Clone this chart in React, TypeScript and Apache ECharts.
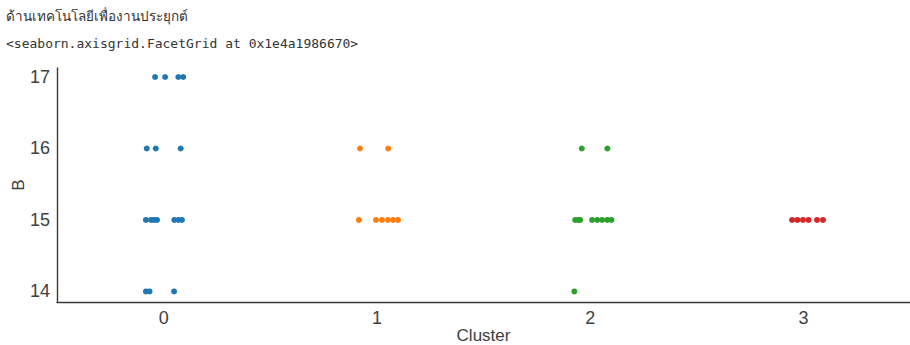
import React, { useEffect, useRef } from "react";
import * as echarts from "echarts";

const categories = ["0", "1", "2", "3"];
const yTicks = [14, 15, 16, 17];
const colors = ["#1f77b4", "#ff7f0e", "#2ca02c", "#d62728"];

// [cluster index + jitter, B value]
const cluster0: [number, number][] = [
  [-0.040, 17], [0.007, 17], [0.069, 17], [0.092, 17],
  [-0.079, 16], [-0.037, 16], [0.080, 16],
  [-0.083, 15], [-0.059, 15], [-0.045, 15], [-0.031, 15], [0.050, 15], [0.069, 15], [0.086, 15],
  [-0.083, 14], [-0.066, 14], [0.049, 14],
];
const cluster1: [number, number][] = [
  [0.921, 16], [1.053, 16],
  [0.916, 15], [0.996, 15], [1.024, 15], [1.052, 15], [1.076, 15], [1.099, 15],
];
const cluster2: [number, number][] = [
  [1.961, 16], [2.081, 16],
  [1.930, 15], [1.944, 15], [1.953, 15], [2.009, 15], [2.033, 15], [2.056, 15], [2.080, 15], [2.100, 15],
  [1.926, 14],
];
const cluster3: [number, number][] = [
  [2.947, 15], [2.972, 15], [2.998, 15], [3.024, 15], [3.064, 15], [3.092, 15],
];

const titleLine1 = "ด้านเทคโนโลยีเพื่องานประยุกต์";
const titleLine2 = "<seaborn.axisgrid.FacetGrid at 0x1e4a1986670>";

export default function App() {
  const ref = useRef<HTMLDivElement>(null);
  useEffect(() => {
    document.body.style.margin = "0";
    if (!ref.current) return;
    const chart = echarts.init(ref.current, undefined, { renderer: "svg" });
    const font = "'Liberation Sans', Arial, sans-serif";
    const seriesData = [cluster0, cluster1, cluster2, cluster3];
    chart.setOption({
      animation: false,
      backgroundColor: "#ffffff",
      grid: { left: 57, right: 0, top: 68, height: 234, containLabel: false, outerBoundsMode: "none" },
      xAxis: {
        type: "value",
        min: -0.5,
        max: 3.5,
        name: "Cluster",
        nameLocation: "middle",
        nameGap: 25,
        nameMoveOverlap: false,
        nameTextStyle: { fontFamily: font, fontSize: 17, color: "#404040", verticalAlign: "top" },
        axisLine: { show: true, onZero: false, lineStyle: { color: "#3a3a3a", width: 1.4 } },
        axisTick: { show: false },
        splitLine: { show: false },
        axisLabel: {
          customValues: [0, 1, 2, 3],
          formatter: (v: number) => categories[Math.round(v)] ?? "",
          fontFamily: font,
          fontSize: 18,
          color: "#404040",
          margin: 7,
        },
      },
      yAxis: {
        type: "value",
        min: 13.852,
        max: 17.126,
        name: "B",
        nameLocation: "middle",
        nameGap: 30,
        nameRotate: 90,
        nameMoveOverlap: false,
        nameTextStyle: { fontFamily: font, fontSize: 17, color: "#404040" },
        axisLine: { show: true, onZero: false, lineStyle: { color: "#3a3a3a", width: 1.4 } },
        axisTick: { show: false },
        splitLine: { show: false },
        axisLabel: {
          customValues: yTicks,
          fontFamily: font,
          fontSize: 18,
          color: "#404040",
          margin: 7,
        },
      },
      series: seriesData.map((d, i) => ({
        type: "scatter",
        data: d,
        symbol: "circle",
        symbolSize: 6,
        itemStyle: { color: colors[i], opacity: 1 },
        emphasis: { disabled: true },
      })),
      graphic: [
        {
          type: "text",
          left: 6,
          top: 9,
          style: { text: titleLine1, fontFamily: "'Noto Sans', 'DejaVu Sans', sans-serif", fontSize: 13.5, fill: "#333333" },
        },
        {
          type: "text",
          left: 6,
          top: 37,
          style: { text: titleLine2, fontFamily: "'DejaVu Sans Mono', 'Liberation Mono', monospace", fontSize: 13, fill: "#333333" },
        },
      ],
    });
    return () => chart.dispose();
  }, []);
  return <div ref={ref} style={{ width: 910, height: 345 }} />;
}
